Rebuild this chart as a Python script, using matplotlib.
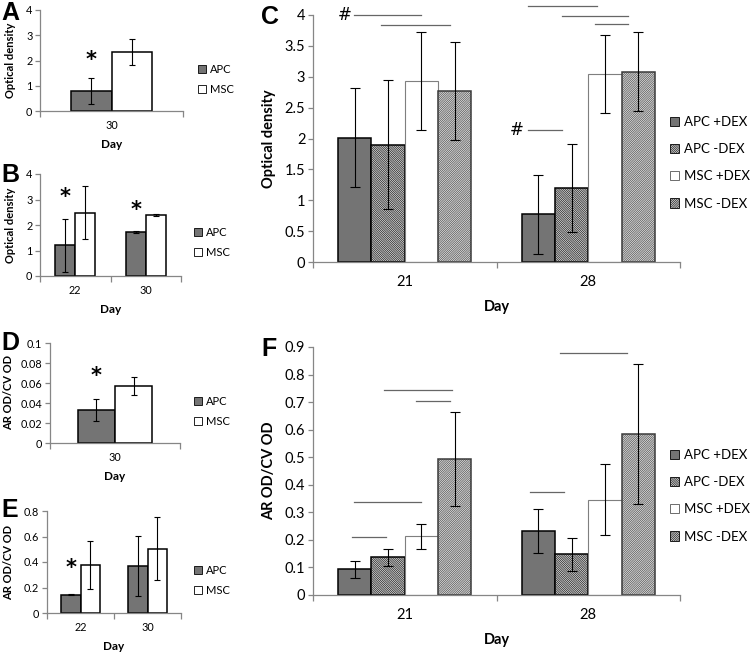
import matplotlib
matplotlib.use("Agg")
import numpy as np
import matplotlib.pyplot as plt
from matplotlib.patches import Patch

plt.rcParams['font.family'] = ['Lato', 'DejaVu Sans']
plt.rcParams['hatch.linewidth'] = 0.45

# ---- data ----
# A: optical density, day 30
days_a = ['30']
apc_a, apc_a_err = [0.79], [0.51]
msc_a, msc_a_err = [2.35], [0.52]

# B: optical density, days 22 and 30
days_b = ['22', '30']
apc_b, apc_b_err = [1.20, 1.72], [1.03, 0.03]
msc_b, msc_b_err = [2.48, 2.38], [1.04, 0.04]

# D: AR OD / CV OD, day 30
days_d = ['30']
apc_d, apc_d_err = [0.033], [0.011]
msc_d, msc_d_err = [0.057], [0.009]

# E: AR OD / CV OD, days 22 and 30
days_e = ['22', '30']
apc_e, apc_e_err = [0.144, 0.367], [0.005, 0.234]
msc_e, msc_e_err = [0.378, 0.504], [0.187, 0.247]

# C / F: four groups, days 21 and 28
days_cf = ['21', '28']
groups = ['APC +DEX', 'APC -DEX', 'MSC +DEX', 'MSC -DEX']
c_means = [[2.01, 0.77], [1.90, 1.20], [2.93, 3.05], [2.77, 3.08]]
c_errs = [[0.80, 0.64], [1.04, 0.71], [0.79, 0.63], [0.80, 0.64]]
f_means = [[0.093, 0.233], [0.137, 0.147], [0.213, 0.346], [0.493, 0.585]]
f_errs = [[0.032, 0.080], [0.031, 0.060], [0.045, 0.130], [0.171, 0.253]]

# significance bars: (x start, x end, y) in category units
c_sig = [(-0.276, 0.091, 4.0), (-0.127, 0.245, 3.83), (0.673, 1.045, 4.15),
         (0.855, 1.218, 3.99), (1.036, 1.218, 3.85), (0.673, 0.855, 2.14)]
c_hash = [(-0.33, 4.0), (0.61, 2.14)]
f_sig = [(-0.285, -0.104, 0.211), (-0.278, 0.091, 0.336), (-0.113, 0.26, 0.745),
         (0.064, 0.249, 0.705), (0.682, 0.867, 0.375), (0.845, 1.213, 0.878)]

# bar styles
styles = [dict(color='#747474', edgecolor='black', hatch=None),
          dict(color='white', edgecolor='black', hatch='\\' * 18),
          dict(color='white', edgecolor='#7f7f7f', hatch=None),
          dict(color='white', edgecolor='#3a3a3a', hatch='/' * 18)]
small_styles = [dict(color='#747474', edgecolor='black', hatch=None),
                dict(color='white', edgecolor='black', hatch=None)]

SPINE = '#868686'
W, H = 750, 655


def px_axes(x0, y0, x1, y1):
    return fig.add_axes([x0 / W, 1 - y1 / H, (x1 - x0) / W, (y1 - y0) / H])


def style_axes(ax, ncat, ymax, ystep, fs, yfmt, xpad):
    for s in ['top', 'right']:
        ax.spines[s].set_visible(False)
    for s in ['left', 'bottom']:
        ax.spines[s].set_color(SPINE)
        ax.spines[s].set_linewidth(0.9)
    ax.set_xlim(-0.5, ncat - 0.5)
    ax.set_ylim(0, ymax)
    yt = np.arange(0, ymax + ystep / 2, ystep)
    ax.set_yticks(yt)
    ax.set_yticklabels([yfmt(v) for v in yt])
    ax.set_xticks(np.arange(ncat))
    ax.set_xticks(np.arange(ncat + 1) - 0.5, minor=True)
    ax.tick_params(axis='x', which='major', length=0, labelsize=fs, pad=xpad)
    ax.tick_params(axis='x', which='minor', length=4, color=SPINE, width=0.9)
    ax.tick_params(axis='y', length=3.5, color=SPINE, width=0.9, labelsize=fs, pad=2)


def draw_bars(ax, means_list, errs_list, sty, capsize):
    n = len(means_list)
    bw = 1.0 / (n + 1.5)
    x = np.arange(len(means_list[0]))
    for i, (m, e, st) in enumerate(zip(means_list, errs_list, sty)):
        off = (i - (n - 1) / 2) * bw
        lw = 0.8 if st['edgecolor'] == '#7f7f7f' else 1.1
        ax.bar(x + off, m, bw, color=st['color'], edgecolor=st['edgecolor'],
               hatch=st['hatch'], linewidth=lw, zorder=2)
        ax.errorbar(x + off, m, yerr=e, fmt='none', ecolor='black',
                    elinewidth=0.8, capsize=capsize, capthick=0.8, zorder=3)
    return bw


def add_legend(ax, labels, sty, xy, fs, spacing):
    handles = [Patch(facecolor=st['color'], edgecolor='black' if st['edgecolor'] != '#7f7f7f' else '#555555',
                     hatch=st['hatch'], linewidth=0.6) for st in sty]
    ax.legend(handles, labels, loc='upper left', bbox_to_anchor=(xy[0] / W, 1 - xy[1] / H),
              bbox_transform=fig.transFigure, frameon=False, fontsize=fs,
              handlelength=0.7, handleheight=0.7, handletextpad=0.35,
              labelspacing=spacing, borderpad=0, borderaxespad=0)


def panel_letter(x, y, s):
    fig.text(x / W, 1 - y / H, s, fontsize=18, fontweight='bold',
             family='Liberation Sans', va='top', ha='left')


fig = plt.figure(figsize=(7.5, 6.55), dpi=100)

fmt1 = lambda v: f'{v:g}'
fmt2 = lambda v: '0' if v == 0 else f'{v:.2f}'.rstrip('0') if v < 0.1 - 1e-9 else f'{v:.1f}'

# ---- small panels ----
small = [
    ('A', (40, 10, 183, 111), days_a, [apc_a, msc_a], [apc_a_err, msc_a_err], 4, 1,
     'Optical density', fmt1, [(0, 2.0)], (198, 64), -0.17),
    ('B', (40, 174, 181, 276), days_b, [apc_b, msc_b], [apc_b_err, msc_b_err], 4, 1,
     'Optical density', fmt1, [(0, 3.1), (1, 2.6)], (194, 227), -0.17),
    ('D', (50, 343, 180, 443), days_d, [apc_d, msc_d], [apc_d_err, msc_d_err], 0.1, 0.02,
     'AR OD/CV OD', fmt2, [(0, 0.0666)], (194, 396), -0.275),
    ('E', (47, 511, 181, 613), days_e, [apc_e, msc_e], [apc_e_err, msc_e_err], 0.8, 0.2,
     'AR OD/CV OD', fmt2, [(0, 0.35)], (194, 565), -0.245),
]
letter_pos = {'A': (1, 1), 'B': (1, 163), 'D': (1, 331), 'E': (1, 498)}

for name, box, days, means, errs, ymax, ystep, ylab, yfmt, stars, legxy, ylx in small:
    ax = px_axes(*box)
    style_axes(ax, len(days), ymax, ystep, 7.8, yfmt, 6.5)
    ax.set_xticklabels(days)
    bw = draw_bars(ax, means, errs, small_styles, 2.5)
    for ci, sy in stars:
        ax.text(ci - bw / 2, sy, '*', ha='center', va='center', fontsize=15,
                fontweight='bold', family='DejaVu Sans')
    ax.set_ylabel(ylab, fontsize=8, fontweight='bold')
    ax.yaxis.set_label_coords(ylx, 0.5)
    ax.set_xlabel('Day', fontsize=8.5, fontweight='bold', labelpad=6)
    add_legend(ax, ['APC', 'MSC'], small_styles, legxy, 8, 0.8)
    panel_letter(*letter_pos[name], name)

# ---- large panels ----
big = [
    ('C', (313, 15, 680, 262), c_means, c_errs, 4, 0.5, 'Optical density', fmt1,
     c_sig, c_hash, (670, 116)),
    ('F', (313, 347, 680, 595), f_means, f_errs, 0.9, 0.1, 'AR OD/CV OD', fmt1,
     f_sig, [], (670, 449)),
]
big_letters = {'C': (261, 5), 'F': (261, 337)}

for name, box, means, errs, ymax, ystep, ylab, yfmt, sig, hashes, legxy in big:
    ax = px_axes(*box)
    style_axes(ax, len(days_cf), ymax, ystep, 10.5, yfmt, 9.5)
    ax.set_xticklabels(days_cf)
    draw_bars(ax, means, errs, styles, 3.5)
    for x0, x1, y in sig:
        ax.plot([x0, x1], [y, y], color='#666666', lw=0.9, clip_on=False, zorder=4)
    for hx, hy in hashes:
        ax.text(hx, hy, '#', ha='center', va='center', fontsize=12, family='DejaVu Sans')
    ax.set_ylabel(ylab, fontsize=10.5, fontweight='bold')
    ax.yaxis.set_label_coords(-0.10, 0.5)
    ax.set_xlabel('Day', fontsize=10.5, fontweight='bold', labelpad=8)
    add_legend(ax, groups, styles, legxy, 9.5, 1.15)
    panel_letter(*big_letters[name], name)

fig.savefig('out.png', dpi=100)
